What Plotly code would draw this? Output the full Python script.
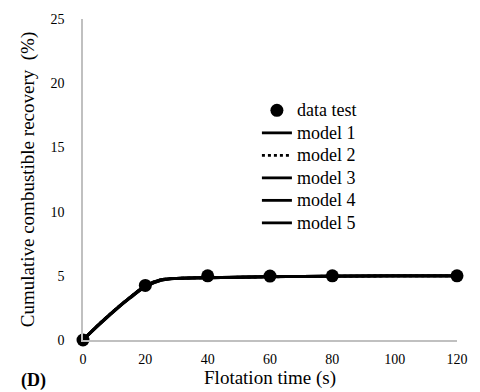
import plotly.graph_objects as go

time_data = [0, 20, 40, 60, 80, 120]
recovery_data = [0, 4.25, 5.0, 4.98, 5.0, 5.0]

time_model = [0, 5, 10, 15, 20, 25, 30, 40, 60, 80, 100, 120]
model1 = [0, 1.2, 2.3, 3.3, 4.2, 4.7, 4.8, 4.85, 4.92, 4.97, 4.99, 5.0]
model2 = [0, 1.2, 2.3, 3.3, 4.2, 4.7, 4.8, 4.85, 4.92, 4.97, 4.99, 5.0]
model3 = [0, 1.15, 2.25, 3.25, 4.15, 4.65, 4.8, 4.85, 4.93, 4.97, 4.99, 5.0]
model4 = [0, 1.15, 2.25, 3.25, 4.15, 4.65, 4.8, 4.85, 4.93, 4.97, 4.99, 5.0]
model5 = [0, 1.2, 2.3, 3.3, 4.2, 4.7, 4.8, 4.86, 4.92, 4.97, 4.99, 5.0]

series_names = ["data test", "model 1", "model 2", "model 3", "model 4", "model 5"]
x_ticks = [0, 20, 40, 60, 80, 100, 120]
y_ticks = [0, 5, 10, 15, 20, 25]

FONT = "Liberation Serif"


def legend_label(s):
    return '<span style="font-size:18px">' + s + '</span>'


fig = go.Figure()
fig.add_trace(go.Scatter(x=time_data, y=recovery_data, mode="markers",
                         name=legend_label(series_names[0]),
                         marker=dict(color="black", size=13), cliponaxis=False))
model_values = [model1, model2, model3, model4, model5]
dashes = ["solid", "dot", "solid", "solid", "solid"]
for name, ys, dash in zip(series_names[1:], model_values, dashes):
    fig.add_trace(go.Scatter(x=time_model, y=ys, mode="lines", name=legend_label(name),
                             cliponaxis=False,
                             line=dict(color="black", width=2.8, dash=dash, shape="spline")))

fig.update_layout(
    width=480, height=392,
    margin=dict(l=83, r=19, t=18, b=52),
    paper_bgcolor="white", plot_bgcolor="white",
    font=dict(family=FONT, color="black", size=14),
    showlegend=True,
    legend=dict(x=0.465, y=0.766, xanchor="left", yanchor="top",
                font=dict(family=FONT, size=15, color="black"),
                bgcolor="rgba(0,0,0,0)", tracegroupgap=0, itemwidth=30),
    xaxis=dict(range=[0, 120], tickvals=x_ticks, showgrid=False, zeroline=False,
               showline=True, linecolor="#c0c0c0", linewidth=1.5, ticks="",
               tickfont=dict(size=14), fixedrange=True, ticklabelstandoff=5,
               title=dict(text="Flotation time (s)", font=dict(size=19), standoff=0)),
    yaxis=dict(range=[0, 25], tickvals=y_ticks, showgrid=False, zeroline=False,
               showline=True, linecolor="#c0c0c0", linewidth=1.5, ticks="",
               tickfont=dict(size=14), fixedrange=True, ticklabelstandoff=14,
               title=dict(text="Cumulative combustible recovery  (%)", font=dict(size=19), standoff=11)),
)
fig.add_annotation(text="<b>(D)</b>", xref="paper", yref="paper", x=-0.172, y=-0.165,
                   xanchor="left", yanchor="bottom", showarrow=False,
                   font=dict(family=FONT, size=18, color="black"))
fig.write_html("out.html")
